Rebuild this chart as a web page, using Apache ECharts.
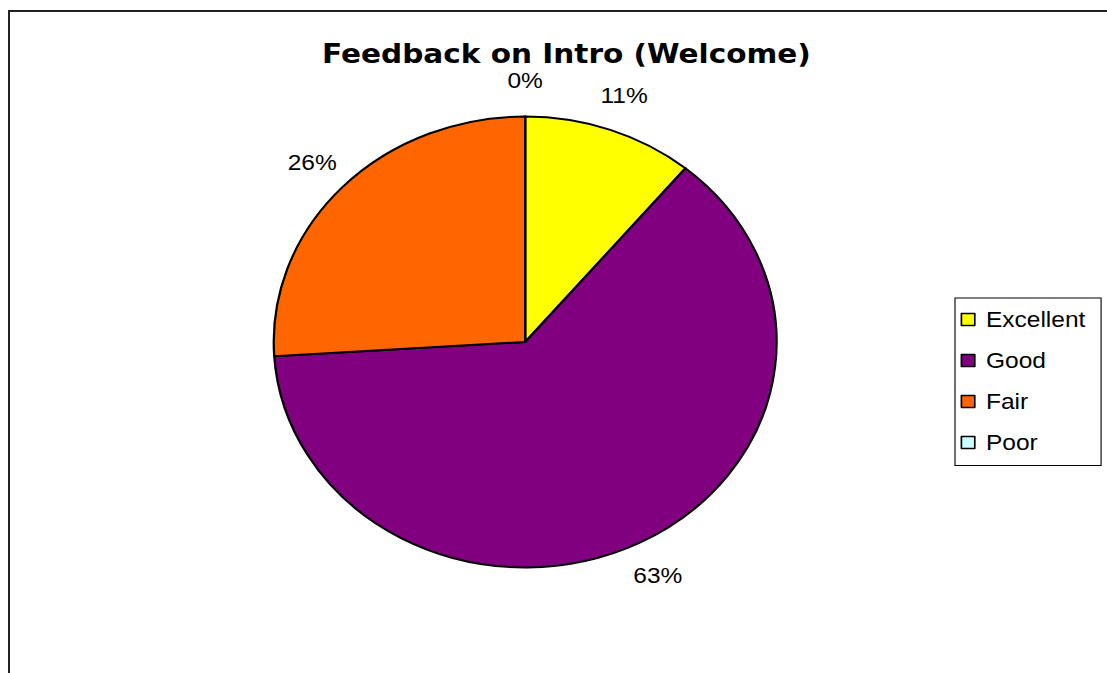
<!DOCTYPE html>
<html>
<head>
<meta charset="utf-8">
<title>Feedback on Intro (Welcome)</title>
<script src="https://cdn.jsdelivr.net/npm/echarts@6/dist/echarts.min.js"></script>
<style>
  html, body { margin: 0; padding: 0; background: #ffffff; overflow: hidden; }
  #frame {
    position: absolute; left: 8px; top: 10px; width: 2000px; height: 2000px;
    border-left: 2px solid #222222; border-top: 2px solid #222222;
  }
  /* the original picture is stretched sideways, so the chart is drawn narrower and widened */
  #chart {
    position: absolute; left: 0; top: 0; width: 993px; height: 673px;
    transform: scaleX(1.115); transform-origin: 0 0;
  }
</style>
</head>
<body>
<div id="frame"></div>
<div id="chart"></div>
<script>
// data (percent of answers)
var categories = ['Excellent', 'Good', 'Fair', 'Poor']
var answerShare = [11, 63, 26, 0]
var sliceColors = ['#FFFF00', '#800080', '#FF6600', '#CCFFFF']

var pieData = categories.map(function (name, i) {
    return { name: name, value: answerShare[i] }
})

var chart = echarts.init(document.getElementById('chart'), null, { renderer: 'svg' })

var option = {
    animation: false,
    color: sliceColors,
    title: {
        text: 'Feedback on Intro (Welcome)',
        left: 508,
        top: 39.5,
        padding: 0,
        textAlign: 'center',
        textStyle: {
            fontFamily: 'DejaVu Sans',
            fontWeight: 'bold',
            fontSize: 26.5,
            lineHeight: 30,
            color: '#000000'
        }
    },
    legend: {
        orient: 'vertical',
        left: 856.5,
        top: 298,
        padding: [10.5, 14, 12, 5],
        itemGap: 19,
        itemWidth: 22,
        itemHeight: 12,
        icon: 'path://M0,0L12,0L12,12L0,12Z',
        borderColor: '#000000',
        borderWidth: 1,
        backgroundColor: '#ffffff',
        itemStyle: {
            borderColor: '#000000',
            borderWidth: 1.5
        },
        textStyle: {
            fontFamily: 'Liberation Sans',
            fontSize: 22,
            lineHeight: 22,
            color: '#000000'
        },
        data: categories
    },
    series: [
        {
            // the slices
            type: 'pie',
            center: [471, 342],
            radius: 225.5,
            startAngle: 90,
            clockwise: true,
            data: pieData,
            label: { show: false },
            labelLine: { show: false },
            emphasis: { disabled: true },
            itemStyle: {
                borderColor: '#000000',
                borderWidth: 2
            }
        },
        {
            // invisible ring that only carries the percent labels
            type: 'pie',
            center: [471, 342],
            radius: [258, 260],
            startAngle: 90,
            clockwise: true,
            silent: true,
            percentPrecision: 0,
            data: pieData,
            itemStyle: { color: 'rgba(0,0,0,0)', borderWidth: 0 },
            emphasis: { disabled: true },
            labelLine: { show: false },
            label: {
                show: true,
                position: 'inside',
                formatter: '{d}%',
                fontFamily: 'Liberation Sans',
                fontSize: 22,
                color: '#000000'
            }
        }
    ]
}

chart.setOption(option)
</script>
</body>
</html>
